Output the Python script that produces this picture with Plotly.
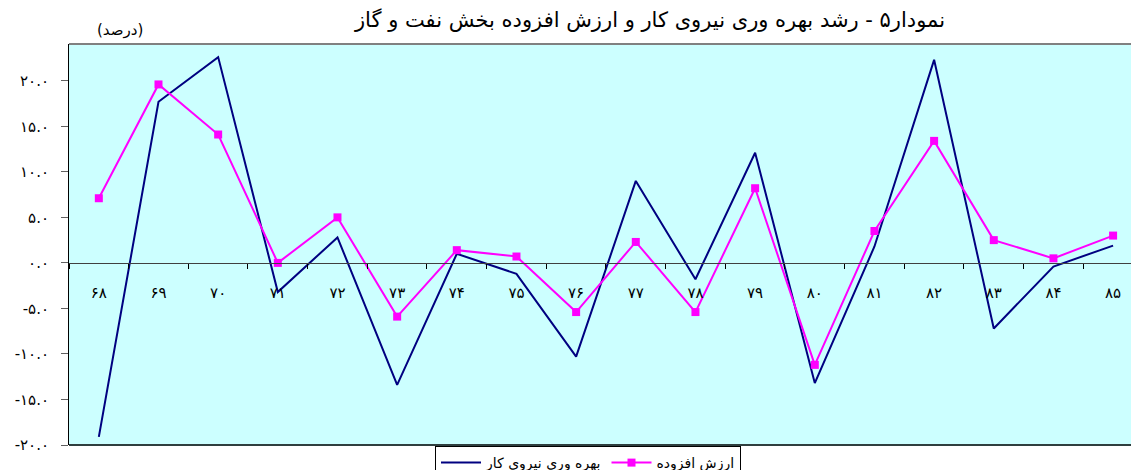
import plotly.graph_objects as go

years = ["۶۸", "۶۹", "۷۰", "۷۱", "۷۲", "۷۳", "۷۴", "۷۵", "۷۶",
         "۷۷", "۷۸", "۷۹", "۸۰", "۸۱", "۸۲", "۸۳", "۸۴", "۸۵"]
labour_productivity = [-19.1, 17.7, 22.6, -3.2, 2.8, -13.4, 1.0, -1.2, -10.3,
                       9.0, -1.8, 12.1, -13.2, 1.8, 22.3, -7.2, -0.4, 1.9]
value_added = [7.1, 19.6, 14.1, 0.0, 5.0, -5.9, 1.4, 0.7, -5.4,
               2.3, -5.4, 8.2, -11.2, 3.5, 13.4, 2.5, 0.5, 3.0]
ytick_vals = [-20, -15, -10, -5, 0, 5, 10, 15, 20]
ytick_text = ["-۲۰.۰", "-۱۵.۰", "-۱۰.۰", "-۵.۰", "۰.۰", "۵.۰", "۱۰.۰", "۱۵.۰", "۲۰.۰"]

name_labour = "بهره وری نیروی کار"
name_va = "ارزش افزوده"
title_text = "نمودار۵ - رشد بهره وری نیروی کار و ارزش افزوده بخش نفت و گاز"
unit_text = "(درصد)"

FONT = "DejaVu Sans, Noto Sans, sans-serif"
YMIN, YMAX = -20, 24.04

fig = go.Figure()
fig.add_trace(go.Scatter(x=years, y=labour_productivity, mode="lines", name=name_labour,
                         line=dict(color="#000080", width=2)))
fig.add_trace(go.Scatter(x=years, y=value_added, mode="lines+markers", name=name_va,
                         line=dict(color="#FF00FF", width=2),
                         marker=dict(symbol="square", size=8, color="#FF00FF")))

fig.update_layout(
    width=1131, height=470,
    margin=dict(l=69, r=0, t=44, b=25, autoexpand=False),
    paper_bgcolor="white",
    plot_bgcolor="#CCFFFF",
    font=dict(family=FONT, size=12, color="black"),
    title=dict(text=title_text, x=650/1131, xanchor="center", y=1-20/470, yanchor="middle",
               font=dict(size=21, family=FONT, color="black")),
    showlegend=True,
    legend=dict(orientation="h", xref="container", yref="container",
                x=435/1131, xanchor="left", y=1-446/470, yanchor="top",
                bgcolor="white", bordercolor="black", borderwidth=1,
                font=dict(size=14, family=FONT), itemwidth=40),
    xaxis=dict(type="category", categoryarray=years, range=[-0.5, 17.3],
               anchor="free", position=(0-YMIN)/(YMAX-YMIN),
               showline=True, linecolor="#404040", linewidth=1,
               ticks="outside", tickson="boundaries", ticklen=5, tickcolor="black",
               ticklabelstandoff=16, showgrid=False, zeroline=False,
               tickfont=dict(size=15, family=FONT)),
    yaxis=dict(range=[YMIN, YMAX], tickvals=ytick_vals, ticktext=ytick_text,
               showline=True, linecolor="black", linewidth=1,
               ticks="outside", ticklen=7, tickcolor="#606060",
               ticklabelstandoff=9, showgrid=False, zeroline=False,
               tickfont=dict(size=15, family=FONT)),
    shapes=[
        dict(type="line", xref="paper", yref="paper", x0=0, x1=1, y0=1, y1=1,
             line=dict(color="#808080", width=2)),
        dict(type="line", xref="paper", yref="paper", x0=0, x1=1, y0=0, y1=0,
             line=dict(color="#2F3F3F", width=2)),
    ],
    annotations=[
        dict(text=unit_text, xref="paper", yref="paper", x=(120-69)/1062, y=1+14/401,
             xanchor="center", yanchor="middle", showarrow=False,
             font=dict(size=15, family=FONT, color="black")),
    ],
)

fig.write_html("out.html", config={"displayModeBar": False},
               post_script="document.body.style.margin='0';document.body.style.overflow='hidden';")
